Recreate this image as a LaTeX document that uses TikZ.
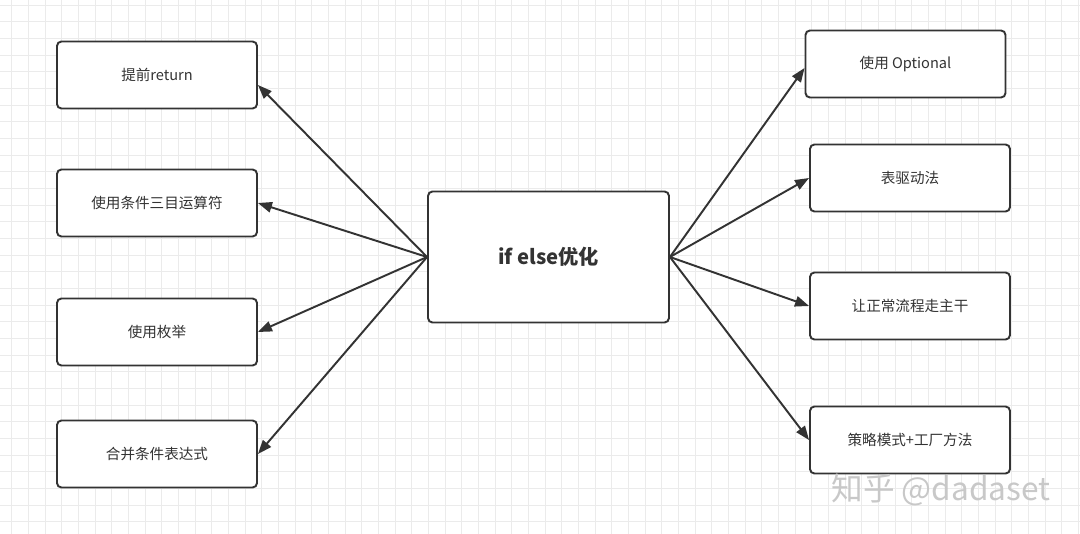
\documentclass[tikz,border=0pt]{standalone}
\usepackage{fontspec}
\setmainfont{Noto Sans CJK SC}
\usetikzlibrary{arrows.meta, positioning, calc}
\definecolor{boxline}{HTML}{333333}
\definecolor{gridgray}{HTML}{EBEBEB}
\definecolor{labelgray}{HTML}{333333}
\definecolor{markgray}{HTML}{C8C8C8}

\begin{document}
\begin{tikzpicture}[x=0.02cm, y=-0.02cm,
    item/.style={draw=boxline, line width=1.1pt, rounded corners=2.5pt, fill=white, minimum width=4.0cm, minimum height=1.34cm, font=\fontsize{8.3}{10}\selectfont, text=labelgray},
    hub/.style={item, minimum width=4.82cm, minimum height=2.62cm, font=\fontsize{11.5}{14}\selectfont\bfseries},
    link/.style={draw=boxline, line width=1.1pt, -{Triangle[length=2.8mm, width=2.1mm]}}]
  \fill[white] (0,0) rectangle (1080,534);
  \useasboundingbox (0,0) rectangle (1080,534);
  % background grid
  \foreach \g in {0,...,64} {
    \draw[gridgray, line width=0.5pt] ({11.7+\g*16.667},0) -- ({11.7+\g*16.667},534);
  }
  \foreach \g in {0,...,32} {
    \draw[gridgray, line width=0.5pt] (0,{5+\g*16.667}) -- (1080,{5+\g*16.667});
  }
  % centre
  \node[hub] (core) at (548.5,257) {if else优化};
  % left branches
  \foreach \n/\y/\txt in {l1/75/提前return, l2/203/使用条件三目运算符, l3/332/使用枚举, l4/454/合并条件表达式} {
    \node[item] (\n) at (157,\y) {\txt};
  }
  % right branches
  \node[item] (r1) at (905.5,64) {使用 Optional};
  \foreach \n/\y/\txt in {r2/178/表驱动法, r3/306/让正常流程走主干, r4/440/策略模式+工厂方法} {
    \node[item] (\n) at (910,\y) {\txt};
  }
  % connectors
  \draw[link] (core.west) -- ([yshift=-0.2cm]l1.east);
  \foreach \n in {l2,l3,l4} {
    \draw[link] (core.west) -- (\n.east);
  }
  \draw[link] (core.east) -- ([yshift=-0.08cm]r1.west);
  \foreach \n in {r2,r3,r4} {
    \draw[link] (core.east) -- (\n.west);
  }
  % watermark
  \node[markgray, font=\fontsize{18}{20}\selectfont] (mark) at (941,490) {知乎 @dadaset};
\end{tikzpicture}
\end{document}
